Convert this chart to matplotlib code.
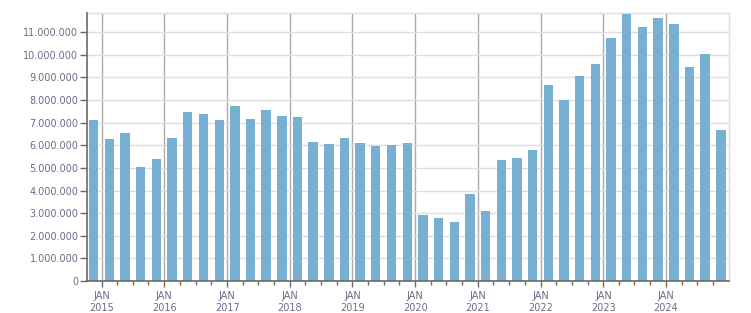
import matplotlib
matplotlib.use('Agg')
import matplotlib.pyplot as plt
import matplotlib.dates as mdates
import pandas as pd

# quarterly values, Q4 2014 .. Q4 2024
quarters = pd.period_range('2014Q4', '2024Q4', freq='Q')
values = [7.12,
          6.28, 6.55, 5.04, 5.40,
          6.33, 7.48, 7.39, 7.12,
          7.74, 7.17, 7.57, 7.30,
          7.26, 6.15, 6.06, 6.33,
          6.11, 5.97, 6.02, 6.11,
          2.92, 2.79, 2.61, 3.85,
          3.10, 5.35, 5.44, 5.80,
          8.67, 8.01, 9.07, 9.60,
          10.75, 11.81, 11.24, 11.64,
          11.37, 9.47, 10.04, 6.68]
values = [v * 1_000_000 for v in values]
yticks = list(range(0, 11_000_001, 1_000_000))

TEXT = '#6c6c8a'
BAR = '#78b0d3'
DARK = '#6a6a6a'

starts = quarters.start_time
ends = quarters.end_time
centers = starts + (ends - starts) / 2

fig = plt.figure(figsize=(7.51, 3.13), dpi=100)
ax = fig.add_axes([0.1154, 0.1022, 0.8549, 0.8563])

ax.bar(centers, values, width=55, color=BAR, zorder=3)

ax.set_xlim(pd.Timestamp('2014-10-06'), pd.Timestamp('2024-12-31'))
ax.set_ylim(0, 11_850_000)

ax.set_yticks(yticks)
ax.yaxis.set_major_formatter(plt.FuncFormatter(lambda v, _: f'{v:,.0f}'.replace(',', '.')))
ax.xaxis.set_major_locator(mdates.YearLocator(1, month=1, day=1))
ax.xaxis.set_minor_locator(mdates.MonthLocator(bymonth=[4, 7, 10]))
ax.xaxis.set_major_formatter(mdates.DateFormatter('JAN\n%Y'))

ax.grid(axis='y', color='#dedede', linewidth=1, zorder=0)
ax.grid(axis='x', which='major', color='#ababab', linewidth=1, zorder=1)

for s in ['top', 'right']:
    ax.spines[s].set_color('#dedede')
    ax.spines[s].set_linewidth(1)
for s in ['left', 'bottom']:
    ax.spines[s].set_color(DARK)
    ax.spines[s].set_linewidth(1.2)
    ax.spines[s].set_zorder(4)

ax.tick_params(axis='y', length=5, width=1, color=DARK, pad=1,
               labelsize=7, labelcolor=TEXT)
ax.tick_params(axis='x', which='major', length=4, width=1, color=DARK, pad=3,
               labelsize=7, labelcolor=TEXT)
ax.tick_params(axis='x', which='minor', length=3, width=1, color=DARK)
for lbl in ax.get_xticklabels():
    lbl.set_linespacing(1.3)

fig.savefig('out.png', dpi=100, facecolor='white')
